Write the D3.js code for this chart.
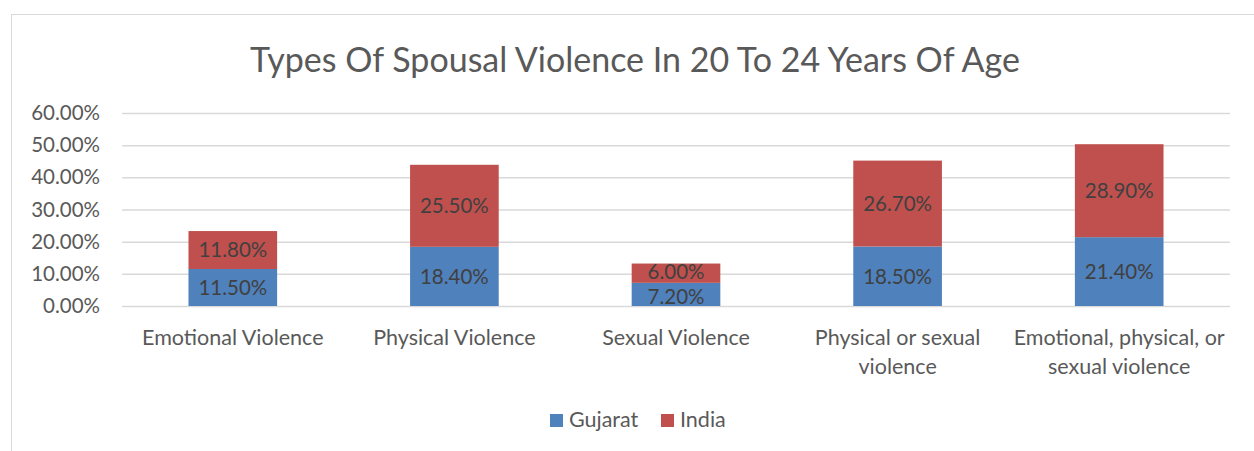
<!DOCTYPE html>
<html><head><meta charset="utf-8">
<script src="https://cdn.jsdelivr.net/npm/d3@7"></script>
<style>body{margin:0;background:#fff;} text{font-family:Lato, "Open Sans", sans-serif;}</style>
</head><body><svg id="c" width="1254" height="451"></svg>
<script>
const categories = [["Emotional Violence"],["Physical Violence"],["Sexual Violence"],["Physical or sexual","violence"],["Emotional, physical, or","sexual violence"]];
const gujarat = [11.5, 18.4, 7.2, 18.5, 21.4];
const india = [11.8, 25.5, 6.0, 26.7, 28.9];
const seriesNames = ["Gujarat","India"];
const colors = ["#4F81BD","#C0504D"];
const yTicks = [0,10,20,30,40,50,60];
const title = "Types Of Spousal Violence In 20 To 24 Years Of Age";

const svg = d3.select("#c");
svg.append("rect").attr("x",11.5).attr("y",14.5).attr("width",1260).attr("height",460).attr("fill","#fff").attr("stroke","#d9d9d9");

const x = d3.scaleBand().domain(d3.range(5)).range([122,1230]).paddingInner(0.6).paddingOuter(0.3);
const y = d3.scaleLinear().domain([0,60]).range([306,113]);

svg.append("text").attr("x",635).attr("y",72).attr("text-anchor","middle").attr("font-size",34).attr("fill","#595959").text(title);

const ya = svg.append("g").attr("transform","translate(122,0)").call(d3.axisLeft(y).tickValues(yTicks).tickSize(-1108).tickFormat(d=>d.toFixed(2)+"%"));
ya.select(".domain").remove();
ya.selectAll(".tick line").attr("stroke","#d9d9d9").attr("stroke-width",1.5);
ya.selectAll(".tick text").attr("x",-22).attr("font-size",20.5).attr("fill","#595959").attr("font-family","Lato, 'Open Sans', sans-serif");

const stacks = [gujarat, india];
const g = svg.append("g");
categories.forEach((c,i)=>{
  let base = 0;
  const labels = [];
  stacks.forEach((s,k)=>{
    const v = s[i];
    g.append("rect").attr("x",x(i)).attr("width",x.bandwidth()).attr("y",y(base+v)).attr("height",y(base)-y(base+v)).attr("fill",colors[k]);
    const t = g.append("text").attr("x",x(i)+x.bandwidth()/2).attr("y",(y(base)+y(base+v))/2).attr("dy","0.36em").attr("text-anchor","middle").attr("font-size",20.5).attr("fill","#404040").text(v.toFixed(2)+"%");
    labels.push(t);
    base += v;
  });
  // separate labels whose boxes would touch
  const b0 = labels[0].node().getBBox(), b1 = labels[1].node().getBBox();
  const overlap = (b1.y + b1.height) - b0.y;
  if (overlap > -0.5) {
    const d = (overlap + 1) / 2;
    labels[0].attr("y", +labels[0].attr("y") + d);
    labels[1].attr("y", +labels[1].attr("y") - d);
  }
  const t = svg.append("text").attr("text-anchor","middle").attr("font-size",21.5).attr("fill","#595959");
  c.forEach((line,j)=>t.append("tspan").attr("x",x(i)+x.bandwidth()/2).attr("y",345+j*29).text(line));
});

const lg = svg.append("g");
const items = [{n:seriesNames[0],c:colors[0],x:550},{n:seriesNames[1],c:colors[1],x:661}];
items.forEach(it=>{
  lg.append("rect").attr("x",it.x).attr("y",414).attr("width",13).attr("height",13).attr("fill",it.c);
  lg.append("text").attr("x",it.x+19).attr("y",427).attr("font-size",21.5).attr("fill","#595959").text(it.n);
});
</script></body></html>
